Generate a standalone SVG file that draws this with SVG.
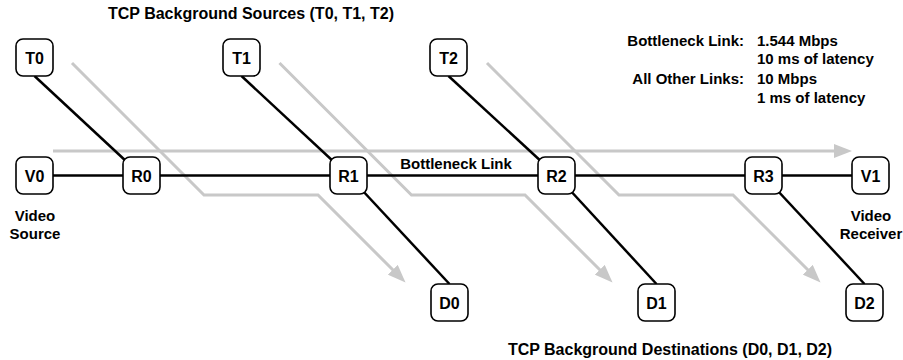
<svg xmlns="http://www.w3.org/2000/svg" width="903" height="360" viewBox="0 0 903 360">
<style>
text{font-family:"Liberation Sans",Arial,sans-serif;font-weight:bold;fill:#000}
.node rect{fill:#fff;stroke:#000;stroke-width:1.6}
.node text{font-size:16px;text-anchor:middle}
.blk{stroke:#000;stroke-width:2.5;fill:none}
.gry{stroke:#c8c8c8;stroke-width:3;fill:none;stroke-linejoin:miter}
.lbl{font-size:15px}
.mid{text-anchor:middle}
.end{text-anchor:end}
.ttl{font-size:16px}
</style>
<defs>
<marker id="ah" viewBox="0 -7 18 14" markerWidth="18" markerHeight="14" refX="1" refY="0" markerUnits="userSpaceOnUse" orient="auto">
<path d="M0,-7 L18,0 L0,7 z" fill="#c8c8c8"/>
</marker>
</defs>
<g id="connectors">
<path class="gry" d="M53,151 H835" marker-end="url(#ah)"/>
<path class="gry" d="M72,63 L204,195 H318 L393.5,270.5" marker-end="url(#ah)"/>
<path class="gry" d="M279.5,63 L411.5,195 H525 L600.5,270.5" marker-end="url(#ah)"/>
<path class="gry" d="M487,63 L619,195 H733 L808.5,270.5" marker-end="url(#ah)"/>
<path class="blk" d="M53,175.5 H852"/>
<path class="blk" d="M34.5,76 L141.5,175.5"/>
<path class="blk" d="M241.5,76 L348.5,175.5"/>
<path class="blk" d="M448.5,76 L556.5,175.5"/>
<path class="blk" d="M348.5,175.5 L449.5,284"/>
<path class="blk" d="M556.5,175.5 L656.5,284"/>
<path class="blk" d="M763.5,175.5 L864.5,284"/>
</g>
<g id="T0" class="node"><rect x="16" y="39" width="37" height="37" rx="7"/><text x="34.5" y="63.5">T0</text></g>
<g id="T1" class="node"><rect x="223" y="39" width="37" height="37" rx="7"/><text x="241.5" y="63.5">T1</text></g>
<g id="T2" class="node"><rect x="430" y="39" width="37" height="37" rx="7"/><text x="448.5" y="63.5">T2</text></g>
<g id="V0" class="node"><rect x="16" y="157" width="37" height="37" rx="7"/><text x="34.5" y="181.5">V0</text></g>
<g id="R0" class="node"><rect x="123" y="157" width="37" height="37" rx="7"/><text x="141.5" y="181.5">R0</text></g>
<g id="R1" class="node"><rect x="330" y="157" width="37" height="37" rx="7"/><text x="348.5" y="181.5">R1</text></g>
<g id="R2" class="node"><rect x="538" y="157" width="37" height="37" rx="7"/><text x="556.5" y="181.5">R2</text></g>
<g id="R3" class="node"><rect x="745" y="157" width="37" height="37" rx="7"/><text x="763.5" y="181.5">R3</text></g>
<g id="V1" class="node"><rect x="852" y="157" width="37" height="37" rx="7"/><text x="870.5" y="181.5">V1</text></g>
<g id="D0" class="node"><rect x="431" y="284" width="37" height="37" rx="7"/><text x="449.5" y="308.5">D0</text></g>
<g id="D1" class="node"><rect x="638" y="284" width="37" height="37" rx="7"/><text x="656.5" y="308.5">D1</text></g>
<g id="D2" class="node"><rect x="846" y="284" width="37" height="37" rx="7"/><text x="864.5" y="308.5">D2</text></g>
<g id="labels">
<text class="ttl" x="108" y="19">TCP Background Sources (T0, T1, T2)</text>
<text class="ttl mid" x="670" y="355">TCP Background Destinations (D0, D1, D2)</text>
<text class="lbl mid" x="456" y="169">Bottleneck Link</text>
<text class="lbl mid" x="35" y="221">Video</text>
<text class="lbl mid" x="35" y="239">Source</text>
<text class="lbl mid" x="871" y="221">Video</text>
<text class="lbl mid" x="871" y="239">Receiver</text>
<text class="lbl end" x="744" y="46">Bottleneck Link:</text>
<text class="lbl" x="757" y="46">1.544 Mbps</text>
<text class="lbl" x="757" y="64">10 ms of latency</text>
<text class="lbl end" x="744" y="84">All Other Links:</text>
<text class="lbl" x="757" y="84">10 Mbps</text>
<text class="lbl" x="757" y="103">1 ms of latency</text>
</g>
</svg>
